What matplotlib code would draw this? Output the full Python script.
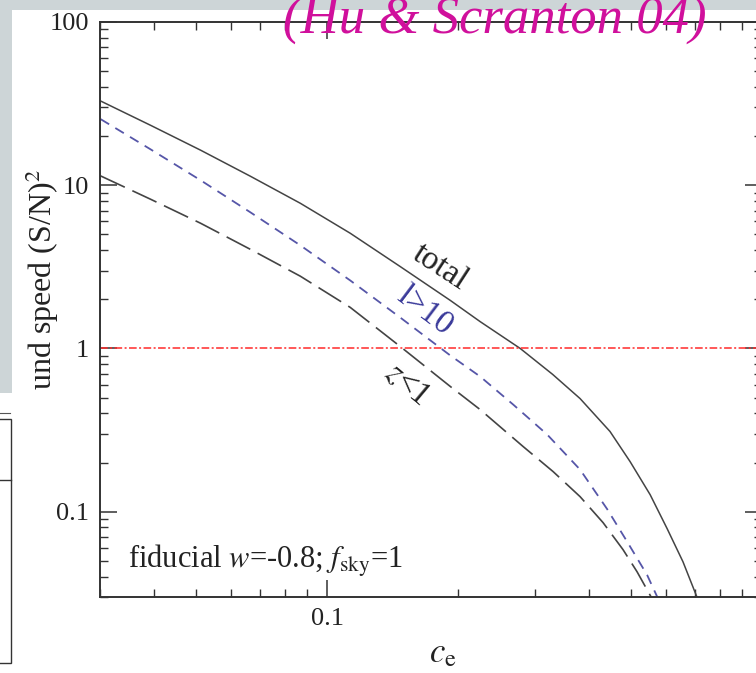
import matplotlib.pyplot as plt
from matplotlib.patches import Rectangle
from matplotlib.lines import Line2D
from matplotlib.ticker import FixedLocator, FixedFormatter, LogLocator, NullFormatter

plt.rcParams["font.family"] = "Liberation Serif"
plt.rcParams["mathtext.fontset"] = "stix"

# curves (c_e vs (S/N)^2)
ce_total = [0.0301, 0.0392, 0.0511, 0.0665, 0.0867, 0.1129, 0.147, 0.1918, 0.2247, 0.2778,
            0.33, 0.3815, 0.447, 0.497, 0.553, 0.605, 0.658, 0.712]
sn_total = [32.8, 23.3, 16.4, 11.36, 7.75, 5.08, 3.18, 1.97, 1.46, 1.0,
            0.693, 0.493, 0.31, 0.203, 0.127, 0.0787, 0.0493, 0.029]

ce_l10 = [0.0301, 0.0392, 0.0511, 0.0665, 0.0867, 0.1129, 0.147, 0.1918, 0.2247, 0.2677,
          0.3204, 0.3815, 0.440, 0.4895, 0.544, 0.577]
sn_l10 = [25.4, 16.6, 10.73, 6.83, 4.28, 2.61, 1.55, 0.906, 0.673, 0.453,
          0.297, 0.181, 0.104, 0.0655, 0.041, 0.0292]

ce_z1 = [0.0301, 0.0392, 0.0511, 0.0665, 0.0867, 0.1129, 0.147, 0.1918, 0.2247, 0.2822,
         0.3307, 0.3815, 0.431, 0.479, 0.516, 0.5586]
sn_z1 = [11.4, 8.21, 5.85, 4.05, 2.77, 1.785, 1.03, 0.585, 0.422, 0.2505,
         0.176, 0.1236, 0.0856, 0.0585, 0.0428, 0.0293]

ytick_vals = [0.1, 1, 10, 100]
ytick_labels = ["0.1", "1", "10", "100"]
xtick_vals = [0.1]
xtick_labels = ["0.1"]

GRAY = "#444444"
BLUE = "#5656a8"
RED = "#ff2a2a"
MAGENTA = "#d0109c"
BG = "#cdd5d7"

W, H = 756, 673
fig = plt.figure(figsize=(W / 100, H / 100), dpi=100, facecolor="white")


def fx(px):
    return px / W


def fy(py):
    return 1 - py / H


# slide background bits around the plot panel
fig.patches.append(Rectangle((0, fy(10)), 1, 10 / H, transform=fig.transFigure,
                             facecolor=BG, edgecolor="none", zorder=0))
fig.patches.append(Rectangle((0, fy(393)), fx(12), (393 - 10) / H, transform=fig.transFigure,
                             facecolor=BG, edgecolor="none", zorder=0))
fig.patches.append(Rectangle((fx(-2), fy(663)), fx(13), (663 - 419) / H, transform=fig.transFigure,
                             facecolor="none", edgecolor="#333333", linewidth=1.0, zorder=1))
fig.lines.append(Line2D([0, fx(11)], [fy(480), fy(480)], transform=fig.transFigure,
                        color="#333333", linewidth=1.0))
fig.lines.append(Line2D([0, fx(10)], [fy(413), fy(413)], transform=fig.transFigure,
                        color="#555555", linewidth=0.8))

ax = fig.add_axes([fx(100), 76 / H, 662 / W, 575 / H])
ax.set_xscale("log")
ax.set_yscale("log")
ax.set_xlim(0.03, 1.0)
ax.set_ylim(0.03, 100)

ax.plot(ce_total, sn_total, color=GRAY, linewidth=1.1)
ax.plot(ce_l10, sn_l10, color=BLUE, linewidth=1.3, dashes=(5.5, 4.0))
ax.plot(ce_z1, sn_z1, color=GRAY, linewidth=1.2, dashes=(16, 5))
ax.axhline(1, color=RED, linewidth=1.1, dashes=(5, 1.6, 1.3, 1.6))

# curve labels
ax.text(0.1819, 3.14, "total", rotation=-33, color="#222222", fontsize=24,
        ha="center", va="center")
ax.text(0.168, 1.687, "l>10", rotation=-37, color="#3a3a9a", fontsize=24,
        ha="center", va="center")
ax.text(0.1527, 0.601, r"$z$<1", rotation=-40, color="#222222", fontsize=24,
        ha="center", va="center")

ax.text((128 - 100) / 662, (597 - 568) / 575,
        r"fiducial $w$=-0.8; $f_{\rm sky}$=1", transform=ax.transAxes,
        fontsize=22, ha="left", va="baseline", color="#222222")

ax.xaxis.set_major_locator(FixedLocator(xtick_vals))
ax.xaxis.set_major_formatter(FixedFormatter(xtick_labels))
ax.xaxis.set_minor_locator(LogLocator(base=10, subs=range(2, 10), numticks=20))
ax.xaxis.set_minor_formatter(NullFormatter())
ax.yaxis.set_major_locator(FixedLocator(ytick_vals))
ax.yaxis.set_major_formatter(FixedFormatter(ytick_labels))
ax.yaxis.set_minor_locator(LogLocator(base=10, subs=range(2, 10), numticks=20))
ax.yaxis.set_minor_formatter(NullFormatter())

ax.tick_params(which="both", direction="in", top=True, right=True,
               color="#333333", labelsize=19, labelcolor="#222222")
ax.tick_params(which="major", length=12, width=1.1, pad=8)
ax.tick_params(which="minor", length=6, width=1.0)
for spine in ax.spines.values():
    spine.set_color("#333333")
    spine.set_linewidth(1.4)

fig.text(fx(443), fy(662), r"$c_{\rm e}$", fontsize=25, ha="center", va="baseline",
         color="#222222")
fig.text(fx(42), fy(390), r"und speed (S/N)$^2$", rotation=90, fontsize=23,
         ha="center", va="bottom", color="#222222")

fig.text(fx(283), fy(34), "(Hu & Scranton 04)", color=MAGENTA, fontsize=38,
         style="italic", ha="left", va="baseline", zorder=10)

fig.savefig("out.png", dpi=100, facecolor="white")
